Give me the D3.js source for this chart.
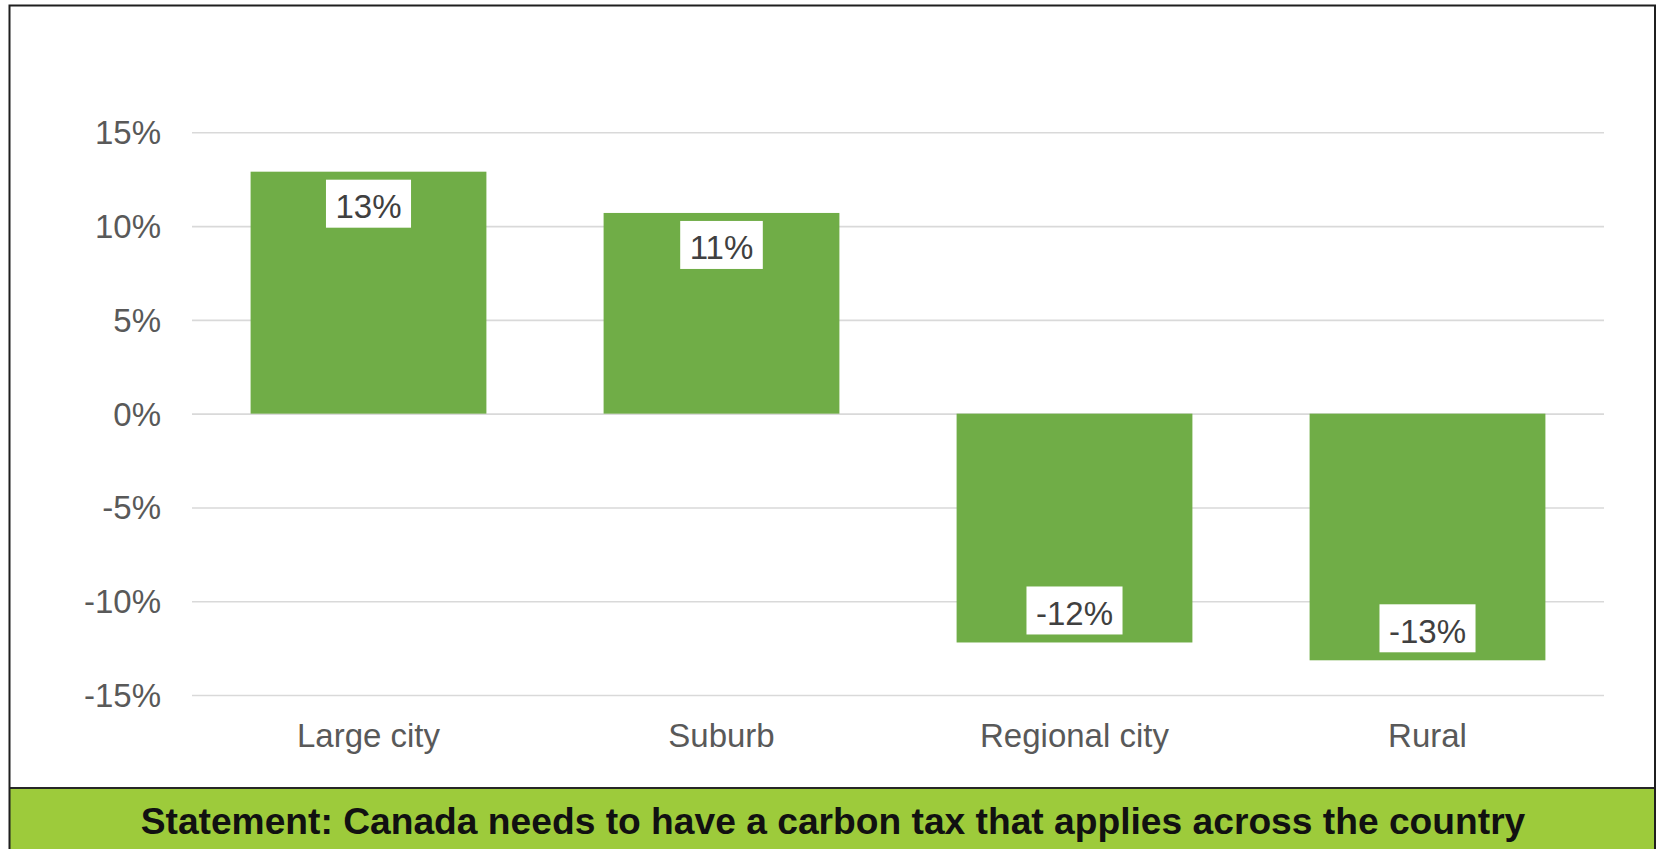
<!DOCTYPE html>
<html>
<head>
<meta charset="utf-8">
<script src="https://cdn.jsdelivr.net/npm/d3@7"></script>
<style>
  html, body { margin: 0; padding: 0; background: #ffffff; }
  svg { display: block; }
  text { font-family: "Liberation Sans", Arial, sans-serif; }
</style>
</head>
<body>
<svg id="chart" width="1657" height="849"></svg>
<script>
// Net agreement by type of community
const categories = ["Large city", "Suburb", "Regional city", "Rural"];
const values = [0.129, 0.107, -0.122, -0.1315];
const yTicks = [-0.15, -0.10, -0.05, 0, 0.05, 0.10, 0.15];
const statement = "Statement: Canada needs to have a carbon tax that applies across the country";

const svg = d3.select("#chart");
const W = 1657, H = 849;

const plot = { left: 192, right: 1604, top: 132.3, bottom: 695 };

const x = d3.scaleBand()
  .domain(categories)
  .range([plot.left, plot.right])
  .paddingInner(0.332)
  .paddingOuter(0.166);

const y = d3.scaleLinear()
  .domain([-0.15, 0.15])
  .range([plot.bottom, plot.top]);

// percent format with a plain hyphen for negatives
const locale = d3.formatLocale({
  decimal: ".", thousands: ",", grouping: [3], currency: ["$", ""], minus: "-"
});
const pct = locale.format(".0%");

// frame background
svg.append("rect")
  .attr("x", 9).attr("y", 5)
  .attr("width", 1647).attr("height", H)
  .attr("fill", "#ffffff");

// gridlines
const yAxis = d3.axisLeft(y)
  .tickValues(yTicks)
  .tickSize(-(plot.right - plot.left))
  .tickFormat(d => pct(d));

const gy = svg.append("g")
  .attr("transform", `translate(${plot.left},0)`)
  .call(yAxis);
gy.select(".domain").remove();
gy.selectAll(".tick line")
  .attr("stroke", "#d9d9d9")
  .attr("stroke-width", 1.6);
gy.selectAll(".tick text")
  .attr("x", -31)
  .attr("dy", "0.35em")
  .attr("fill", "#595959")
  .style("font-size", "33px")
  .style("font-family", "'Liberation Sans', Arial, sans-serif");

// bars
svg.append("g")
  .selectAll("rect")
  .data(values)
  .join("rect")
  .attr("x", (d, i) => x(categories[i]))
  .attr("width", x.bandwidth())
  .attr("y", d => y(Math.max(0, d)))
  .attr("height", d => Math.abs(y(d) - y(0)))
  .attr("fill", "#70ad47");

// data labels in white boxes, inside the bar end
const labels = svg.append("g")
  .selectAll("g")
  .data(values)
  .join("g");

labels.each(function (d, i) {
  const g = d3.select(this);
  const cx = x(categories[i]) + x.bandwidth() / 2;
  const boxH = 48;
  const boxTop = d >= 0 ? y(d) + 8 : y(d) - 8 - boxH;
  const rect = g.append("rect").attr("fill", "#ffffff");
  const t = g.append("text")
    .attr("x", cx)
    .attr("y", boxTop + 38.5)
    .attr("text-anchor", "middle")
    .attr("fill", "#404040")
    .style("font-size", "33px")
    .text(pct(d));
  const tw = t.node().getComputedTextLength();
  const pad = 9.5;
  rect.attr("x", cx - tw / 2 - pad)
    .attr("y", boxTop)
    .attr("width", tw + pad * 2)
    .attr("height", boxH);
});

// category labels
const xAxis = d3.axisBottom(x).tickSize(0);
const gx = svg.append("g")
  .attr("transform", `translate(0,${plot.bottom})`)
  .call(xAxis);
gx.select(".domain").remove();
gx.selectAll(".tick text")
  .attr("y", 51.5)
  .attr("dy", 0)
  .attr("fill", "#595959")
  .style("font-size", "33px")
  .style("font-family", "'Liberation Sans', Arial, sans-serif");

// statement banner
svg.append("rect")
  .attr("x", 9).attr("y", 788)
  .attr("width", 1647).attr("height", H - 788 + 2)
  .attr("fill", "#9dcb3b");
svg.append("line")
  .attr("x1", 9).attr("x2", 1656)
  .attr("y1", 788).attr("y2", 788)
  .attr("stroke", "#262626").attr("stroke-width", 2);
svg.append("text")
  .attr("x", 833)
  .attr("y", 834.3)
  .attr("text-anchor", "middle")
  .attr("fill", "#111111")
  .style("font-size", "37.2px")
  .style("font-weight", "bold")
  .text(statement);

// outer frame
svg.append("rect")
  .attr("x", 9.5).attr("y", 5.5)
  .attr("width", 1645.5).attr("height", H)
  .attr("fill", "none")
  .attr("stroke", "#1f1f1f")
  .attr("stroke-width", 2);
</script>
</body>
</html>
